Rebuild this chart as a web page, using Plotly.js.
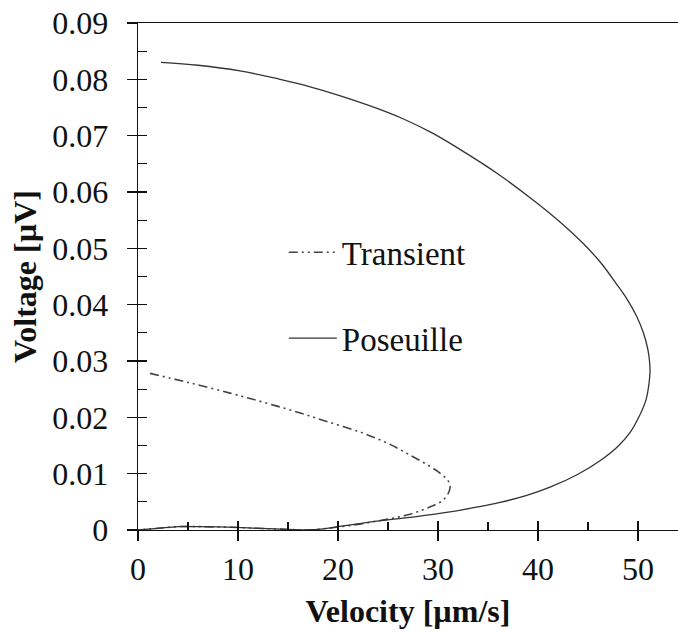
<!DOCTYPE html>
<html>
<head>
<meta charset="utf-8">
<script src="https://cdn.plot.ly/plotly-3.0.1.min.js"></script>
<style>html,body{margin:0;padding:0;background:#fff;}#chart{width:678px;height:632px;}</style>
</head>
<body>
<div id="chart"></div>
<script>
// Poseuille curve (velocity µm/s, voltage µV)
const poseuilleX = [2.3, 6, 10.2, 14, 16.8, 20, 23.5, 26.5, 29.5, 32.8, 36, 39.5, 42, 44.5, 46.3, 47.8, 48.9, 49.85, 50.54, 50.99, 51.15, 51.2, 51.1, 50.8, 50.1, 49.2, 47.9, 46.2, 44, 41.2, 38.8, 36.2, 33.7, 31.2, 28, 24.5, 22, 20, 18.5, 17, 15, 12, 9, 6, 4, 2, 0];
const poseuilleY = [0.0830, 0.0825, 0.0815, 0.0801, 0.0789, 0.0772, 0.0751, 0.0730, 0.0704, 0.0669, 0.0632, 0.0586, 0.0550, 0.0509, 0.0474, 0.0438, 0.0410, 0.0380, 0.0350, 0.0320, 0.0300, 0.0281, 0.0260, 0.0231, 0.0201, 0.0173, 0.0147, 0.0123, 0.0099, 0.0076, 0.0061, 0.0049, 0.0040, 0.0032, 0.0024, 0.0017, 0.0011, 0.0006, 0.0002, 0.0000, 0.0001, 0.0003, 0.0005, 0.0006, 0.0006, 0.0003, 0];
// Transient curve
const transientX = [1.2, 5, 9.2, 12.5, 15.8, 19, 22.5, 25.2, 27.5, 29.1, 30.2, 30.9, 31.2, 31.1, 30.5, 29.6, 28.5, 27, 25.2, 23, 20.8, 19, 17, 15, 12, 9, 6, 4, 2, 0];
const transientY = [0.0278, 0.0262, 0.0243, 0.0227, 0.0210, 0.0192, 0.0172, 0.0152, 0.0130, 0.0114, 0.0101, 0.0090, 0.0080, 0.0068, 0.0053, 0.0044, 0.0036, 0.0027, 0.0020, 0.0013, 0.0007, 0.0003, 0.0000, 0.0001, 0.0003, 0.0005, 0.0006, 0.0006, 0.0003, 0];
const xTicks = [0, 10, 20, 30, 40, 50];
const yTicks = [0, 0.01, 0.02, 0.03, 0.04, 0.05, 0.06, 0.07, 0.08, 0.09];
const seriesNames = ['Transient', 'Poseuille'];

const FONT = 'Liberation Serif';
const xRange = [0, 54];
const yRange = [0, 0.09];

const traces = [
  {x: transientX, y: transientY, name: seriesNames[0], mode: 'lines', type: 'scatter',
   line: {color: '#444', width: 1.6, dash: '9px,4px,2px,4px,2px,4px', shape: 'spline', smoothing: 1},
   legendgroup: 'a'},
  {x: poseuilleX, y: poseuilleY, name: seriesNames[1], mode: 'lines', type: 'scatter',
   line: {color: '#333', width: 1.3, shape: 'spline', smoothing: 1},
   legendgroup: 'b'},
  {x: [], y: [], xaxis: 'x2', yaxis: 'y2', showlegend: false, hoverinfo: 'skip', type: 'scatter'}
];

const layout = {
  width: 678, height: 632,
  margin: {l: 138, r: 0, t: 23, b: 102, pad: 0},
  paper_bgcolor: '#fff', plot_bgcolor: '#fff',
  font: {family: FONT, size: 32, color: '#111'},
  showlegend: true,
  legend: {x: 0.27, y: 0.603, xanchor: 'left', yanchor: 'top', bgcolor: 'rgba(0,0,0,0)',
           font: {family: FONT, size: 33, color: '#111'}, traceorder: 'grouped', tracegroupgap: 40,
           itemwidth: 48},
  xaxis: {range: xRange, tickvals: xTicks, ticktext: xTicks.map(String), ticks: 'outside', ticklen: 10,
          tickwidth: 1.2, tickcolor: '#111', showline: true, linecolor: '#111', linewidth: 1.3,
          mirror: true, showgrid: false, zeroline: false, fixedrange: true,
          tickfont: {family: FONT, size: 32, color: '#111'},
          title: {text: '<b>Velocity [µm/s]</b>', font: {family: FONT, size: 32, color: '#111'}, standoff: 14}},
  yaxis: {range: yRange, tickvals: yTicks, ticktext: yTicks.map(v => v === 0 ? '0' : v.toFixed(2)),
          ticks: 'outside', ticklen: 10, tickwidth: 1.2, tickcolor: '#111', showline: true,
          linecolor: '#111', linewidth: 1.3, mirror: false, showgrid: false, zeroline: false,
          fixedrange: true, tickfont: {family: FONT, size: 32, color: '#111'}, ticklabelstandoff: 12,
          title: {text: '<b>Voltage [µV]</b>', font: {family: FONT, size: 32, color: '#111'}, standoff: 6}},
  xaxis2: {overlaying: 'x', range: xRange, tickvals: xTicks, ticks: 'inside', ticklen: 9, tickwidth: 1.2,
           tickcolor: '#111', showticklabels: false, showline: false, showgrid: false, zeroline: false,
           minor: {dtick: 5, ticks: 'inside', ticklen: 8, tickwidth: 1.2, tickcolor: '#111', showgrid: false}},
  yaxis2: {overlaying: 'y', range: yRange, tickvals: yTicks, ticks: 'inside', ticklen: 9, tickwidth: 1.2,
           tickcolor: '#111', showticklabels: false, showline: false, showgrid: false, zeroline: false,
           minor: {dtick: 0.005, ticks: 'inside', ticklen: 9, tickwidth: 1.2, tickcolor: '#111', showgrid: false}}
};

Plotly.newPlot('chart', traces, layout, {staticPlot: true, displayModeBar: false});
</script>
</body>
</html>
